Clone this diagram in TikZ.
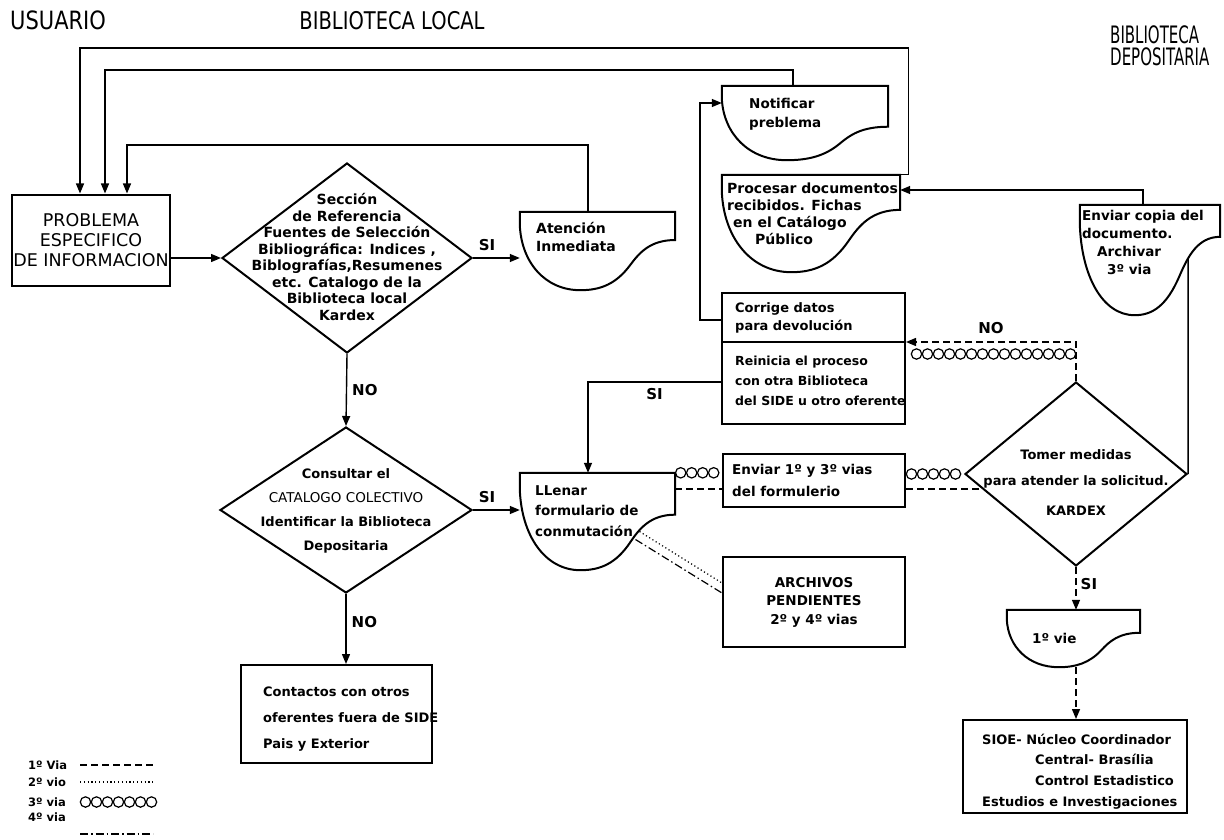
\documentclass[tikz,border=0pt]{standalone}
\usepackage{fontspec}
\setmainfont{DejaVu Sans}
\usetikzlibrary{arrows.meta,calc,decorations.markings,intersections,shapes.geometric}

\tikzset{
  boxline/.style={line width=2pt},
  link/.style={line width=1.5pt},
  flow/.style={line width=1.4pt, -{Triangle[length=10pt,width=8pt]}},
  via1/.style={line width=1.4pt, dash pattern=on 7pt off 4pt},
  via2/.style={line width=1.2pt, dash pattern=on 1.2pt off 2.6pt},
  via3/.style={decoration={markings, mark=between positions 5.5pt and 1 step 11pt with {\draw[line width=1.2pt] (0pt,0pt) circle (5.2pt);}}, postaction={decorate}},
  via4/.style={line width=1.2pt, dash pattern=on 8pt off 3pt on 1.5pt off 3pt},
  flowd/.style={via1, -{Triangle[length=10pt,width=8pt]}},
  procbox/.style={draw, boxline, rectangle, inner sep=0pt},
  formbox/.style={rectangle, inner sep=0pt},
  decision/.style={diamond, draw, boxline, inner sep=0pt},
  txt/.style={font=\fontsize{13.5}{17}\selectfont\bfseries, inner sep=0pt, align=left},
  yesno/.style={font=\fontsize{15}{17}\selectfont\bfseries, inner sep=0pt},
  headtxt/.style={inner sep=0pt, align=left},
  legtext/.style={font=\fontsize{11.5}{13}\selectfont\bfseries, inner sep=0pt, anchor=west},
}

% document symbol drawn round an empty node, #1 = straight part of the right side
\newcommand{\docform}[2][0.36]{%
  \draw[boxline, name path=#2-out] let \p1=(#2.north west), \p2=(#2.south east) in
    (\x1,\y1) -- (\x2,\y1) -- ({\x2},{\y1-#1*(\y1-\y2)})
    .. controls ({\x1+0.84*(\x2-\x1)},{\y1-#1*(\y1-\y2)})
            and ({\x1+0.77*(\x2-\x1)},{\y1-(3*#1+1)/4*(\y1-\y2)}) ..
    ({\x1+0.71*(\x2-\x1)},{\y1-(1+#1)/2*(\y1-\y2)})
    .. controls ({\x1+0.62*(\x2-\x1)},{\y1-(7+#1)/8*(\y1-\y2)})
            and ({\x1+0.52*(\x2-\x1)},{\y2}) ..
    ({\x1+0.39*(\x2-\x1)},{\y2})
    .. controls ({\x1+0.16*(\x2-\x1)},{\y2})
            and ({\x1+0.01*(\x2-\x1)},{\y1-0.64*(\y1-\y2)}) ..
    ({\x1},{\y1-0.17*(\y1-\y2)}) -- cycle;}

\begin{document}
\begin{tikzpicture}[x=1pt,y=-1pt]
\useasboundingbox (0,0) rectangle (1224,840);

% column titles
\node[headtxt, anchor=west, font=\fontsize{21}{24}\selectfont] (husu) at (10,20) {\scalebox{1}[1.2]{USUARIO}};
\node[headtxt, font=\fontsize{19.5}{24}\selectfont] (hloc) at (392,21) {\scalebox{1}[1.25]{BIBLIOTECA LOCAL}};
\node[headtxt, anchor=north west, font=\fontsize{15}{22}\selectfont] (hdep) at (1110,25) {\scalebox{1}[1.6]{BIBLIOTECA}\\\scalebox{1}[1.6]{DEPOSITARIA}};

% user
\node[procbox, minimum width=158pt, minimum height=91pt, align=center, font=\fontsize{17.5}{20}\selectfont] (prob) at (91,240) {PROBLEMA\\ESPECIFICO\\DE INFORMACION};

% local library
\node[decision, minimum width=250pt, minimum height=190pt] (dsec) at (347,258) {};
\node[txt, align=center, font=\fontsize{14}{16.5}\selectfont\bfseries] (dsec-t) at (347,257) {Sección\\de Referencia\\Fuentes de Selección\\Bibliográfica: Indices ,\\Biblografías,Resumenes\\etc. Catalogo de la\\Biblioteca local\\Kardex};

\node[decision, minimum width=252pt, minimum height=166pt] (dcat) at (346,510) {};
\node[txt, align=center, font=\fontsize{13}{24}\selectfont\bfseries] (dcat-t) at (346,511) {Consultar el\\{\mdseries\fontsize{13.5}{24}\selectfont CATALOGO COLECTIVO}\\Identificar la Biblioteca\\Depositaria};

\node[procbox, minimum width=191pt, minimum height=98pt] (cont) at (336.5,714) {};
\node[txt, anchor=north west, font=\fontsize{13}{26}\selectfont\bfseries] (cont-t) at (263,686.5) {Contactos con otros\\oferentes fuera de SIDE\\Pais y Exterior};

\node[formbox, minimum width=155pt, minimum height=78pt] (aten) at (597.5,251) {};
\node[txt, anchor=north west, font=\fontsize{14}{18}\selectfont\bfseries] (aten-t) at (536,222.5) {Atención\\Inmediata};

\node[formbox, minimum width=155pt, minimum height=97pt] (llen) at (597.5,521.5) {};
\node[txt, anchor=north west, font=\fontsize{13.5}{20.5}\selectfont\bfseries] (llen-t) at (535,485) {LLenar\\formulario de\\conmutación};

\node[formbox, minimum width=166pt, minimum height=74pt] (noti) at (805,123) {};
\node[txt, anchor=north west, font=\fontsize{13.5}{19}\selectfont\bfseries] (noti-t) at (749,98) {Notificar\\preblema};

\node[formbox, minimum width=178pt, minimum height=97pt] (proc) at (811,223.5) {};
\node[txt, anchor=north west, font=\fontsize{14}{17}\selectfont\bfseries] (proc-t) at (727,183) {Procesar documentos\\recibidos. Fichas\\\hspace*{6pt}en el Catálogo\\\hspace*{28pt}Público};

\node[procbox, minimum width=183pt, minimum height=131pt] (corr) at (813.5,358.5) {};
\node[txt, anchor=north west, font=\fontsize{13}{18}\selectfont\bfseries] (corr-t1) at (735,302) {Corrige datos\\para devolución};
\node[txt, anchor=north west, font=\fontsize{12.5}{20}\selectfont\bfseries] (corr-t2) at (735,356) {Reinicia el proceso\\con otra Biblioteca\\del SIDE u otro oferente};

\node[procbox, minimum width=182pt, minimum height=53pt] (env13) at (814,480.5) {};
\node[txt, anchor=north west, font=\fontsize{13.5}{22}\selectfont\bfseries] (env13-t) at (732,464) {Enviar 1º y 3º vias\\del formulerio};

\node[procbox, minimum width=182pt, minimum height=90pt, txt, align=center, font=\fontsize{13.5}{18.5}\selectfont\bfseries] (arch) at (814,602) {ARCHIVOS\\PENDIENTES\\2º y 4º vias};

% depositary library
\node[formbox, minimum width=140pt, minimum height=110pt] (ecop) at (1150,260) {};
\node[txt, anchor=north west, font=\fontsize{13.5}{17.7}\selectfont\bfseries] (ecop-t) at (1082,210.5) {Enviar copia del\\documento.\\\hspace*{15pt}Archivar\\\hspace*{25pt}3º via};

\node[decision, minimum width=222pt, minimum height=184pt] (dkar) at (1076,474) {};
\node[txt, align=center, font=\fontsize{13}{26}\selectfont\bfseries] (dkar-t) at (1076,483) {Tomer medidas\\para atender la solicitud.\\[4pt]KARDEX};

\node[formbox, minimum width=133pt, minimum height=57pt] (via1f) at (1073.5,638.5) {};
\node[txt, anchor=west] (via1f-t) at (1032,638) {1º vie};

\node[procbox, minimum width=224pt, minimum height=93pt] (sioe) at (1075,766.5) {};
\node[txt, anchor=north west, font=\fontsize{13}{20.7}\selectfont\bfseries] (sioe-t) at (982,733.5) {SIOE- Núcleo Coordinador\\\hspace*{53pt}Central- Brasília\\\hspace*{53pt}Control Estadistico\\Estudios e Investigaciones};

\docform[0.55]{noti}
\docform{proc}
\docform{aten}
\docform[0.43]{llen}
\docform[0.29]{ecop}
\docform[0.4]{via1f}

% back to the user
\draw[flow] (proc.north east) -- ++(8,0) |- (80,48) -- ([xshift=-11pt]prob.north);
\draw[flow] ([xshift=-12pt]noti.north) |- (105,70) -- ([xshift=14pt]prob.north);
\draw[flow] ([xshift=-9.5pt]aten.north) |- (127,145) -- ([xshift=36pt]prob.north);

% main flow
\draw[flow] (prob.east |- dsec.west) -- (dsec.west);
\draw[flow] (dsec.east) -- node[yesno, pos=0.3, above=7pt] (si1) {SI} (dsec.east -| aten.west);
\draw[flow] (dsec.south) -- node[yesno, right=5pt] (no1) {NO} (dcat.north);
\draw[flow] (dcat.east) -- node[yesno, pos=0.3, above=7pt] (si2) {SI} (dcat.east -| llen.west);
\draw[flow] (dcat.south) -- node[yesno, pos=0.4, right=5pt] (no2) {NO} (dcat.south |- cont.north);

% corrections
\draw[boxline] (corr.west |- 0,342) -- (corr.east |- 0,342);
\draw[flow] (corr.west |- 0,320) -| (700,103) -- (noti.west |- 0,103);
\draw[flow] (corr.west |- 0,382) -| node[yesno, pos=0.25, below=6pt] (si3) {SI} ([xshift=-9.5pt]llen.north);

% copies of the form
\path[via3] (llen.north east) -- (env13.west |- llen.north east);
\draw[via1] (llen.east |- 0,489) -- (env13.west |- 0,489);
\path[via3] (env13.east |- dkar.west) -- (dkar.west);
\draw[via1] (env13.east |- dkar.189) -- (dkar.189);
\draw[via2] ([shift={(42pt,-10pt)}]llen.center) -- (arch.west |- 0,583);
\draw[via4] ([shift={(38pt,-18pt)}]llen.center) -- (arch.west |- 0,593);

% answer of the depositary library
\draw[flowd] (dkar.north) |- node[yesno, pos=0.75, above=8pt] (no3) {NO} (corr.east |- 0,342);
\path[via3] (dkar.north |- 0,354) -- (corr.east |- 0,354);
\draw[flowd] (dkar.south) -- node[yesno, pos=0.4, right=4pt] (si4) {SI} (dkar.south |- via1f.north);
\draw[flowd] (dkar.south |- via1f.south) -- (dkar.south |- sioe.north);
\path[name path=kar-up] (dkar.east) -- ++(0,-260);
\draw[link, name intersections={of=ecop-out and kar-up, by=ecopcut}] (dkar.east) -- (ecopcut);
\draw[flow] ([xshift=-7pt]ecop.north) |- (proc.east |- 0,190);

% legend
\node[legtext] (leg1) at (28,765) {1º Via};
\node[legtext] (leg2) at (28,782) {2º vio};
\node[legtext] (leg3) at (28,802) {3º via};
\node[legtext] (leg4) at (28,817) {4º via};
\draw[via1] (leg1.east -| 80,0) -- ++(73,0);
\draw[via2] (leg2.east -| 80,0) -- ++(73,0);
\path[via3] (leg3.east -| 80,0) -- ++(75,0);
\draw[via4] (80,834) -- ++(73,0);

\end{tikzpicture}
\end{document}
